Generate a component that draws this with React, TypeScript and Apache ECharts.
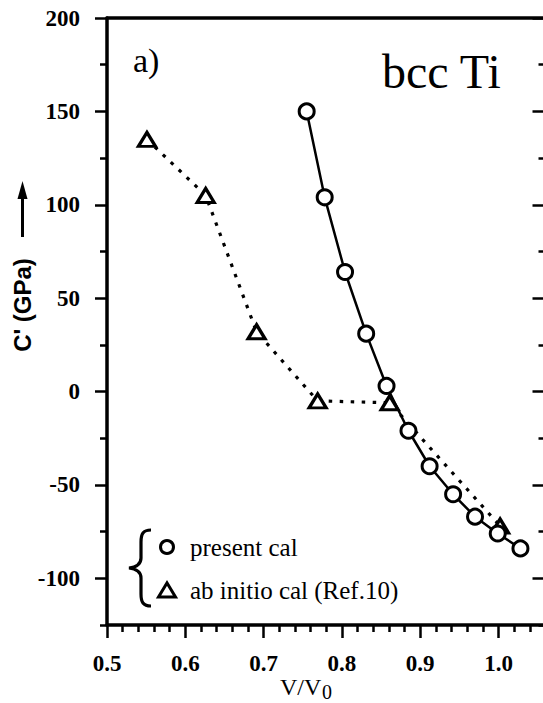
import React, { useEffect, useRef } from 'react';
import * as echarts from 'echarts';

// present calculation (circles, solid line)
const presentX = [0.755, 0.778, 0.804, 0.831, 0.857, 0.885, 0.912, 0.942, 0.97, 0.999, 1.028];
const presentY = [150, 104, 64, 31, 3, -21, -40, -55, -67, -76, -84];
// ab initio calculation (triangles, dotted line)
const abInitioX = [0.551, 0.626, 0.691, 0.769, 0.861, 1.002];
const abInitioY = [135, 105, 32, -5, -6, -72];

const xMajorTicks = [0.5, 0.6, 0.7, 0.8, 0.9, 1.0];
const xMinorTicks = [0.52, 0.54, 0.56, 0.58, 0.62, 0.64, 0.66, 0.68, 0.72, 0.74, 0.76, 0.78, 0.82, 0.84, 0.86, 0.88, 0.92, 0.94, 0.96, 0.98, 1.02, 1.04];
const yMajorTicks = [-100, -50, 0, 50, 100, 150, 200];
const yMinorTicks = [-125, -75, -25, 25, 75, 125, 175];

const legendLabels = ['present cal', 'ab initio cal (Ref.10)'];
const panelLabel = 'a)';
const titleLabel = 'bcc Ti';
const yName = "C' (GPa)";

let braceRegistered = false;
function registerBrace() {
  if (braceRegistered) return;
  const d = 'M 22 0 C 14 0 12 4 12 12 L 12 28 C 12 34 8 37 0 38 C 8 39 12 42 12 48 L 12 64 C 12 72 14 76 22 76';
  echarts.graphic.registerShape('brace', echarts.graphic.extendPath(d, {}) as any);
  braceRegistered = true;
}

const SERIF = '"Liberation Serif", "Times New Roman", serif';
const SANS = '"Liberation Sans", Arial, sans-serif';

export default function App() {
  const ref = useRef<HTMLDivElement>(null);
  useEffect(() => {
    if (!ref.current) return;
    registerBrace();
    const chart = echarts.init(ref.current, undefined, { renderer: 'svg' });
    const axisLineStyle = { color: '#000', width: 3.5 };
    const tickLine = { color: '#000', width: 2.5 };
    const base = { type: 'value', splitLine: { show: false } };
    const option: any = {
      animation: false,
      backgroundColor: '#fff',
      grid: { left: 107, top: 18, width: 438.5, height: 607 },
      xAxis: [
        {
          ...base, min: 0.5, max: 1.06, position: 'bottom',
          axisLine: { show: true, onZero: false, lineStyle: axisLineStyle },
          axisTick: { show: true, inside: false, length: 13, customValues: xMajorTicks, lineStyle: tickLine },
          axisLabel: {
            show: true, customValues: xMajorTicks, margin: 27,
            formatter: (v: number) => v.toFixed(1),
            color: '#000', fontFamily: SERIF, fontSize: 23, fontWeight: 'bold',
          },
        },
        {
          ...base, min: 0.5, max: 1.06, position: 'bottom',
          axisLine: { show: false, onZero: false },
          axisTick: { show: true, inside: false, length: 7, customValues: xMinorTicks, lineStyle: tickLine },
          axisLabel: { show: false },
        },
        {
          ...base, min: 0.5, max: 1.06, position: 'top',
          axisLine: { show: true, onZero: false, lineStyle: axisLineStyle },
          axisTick: { show: false },
          axisLabel: { show: false },
        },
      ],
      yAxis: [
        {
          ...base, min: -125, max: 200, position: 'left',
          axisLine: { show: true, onZero: false, lineStyle: axisLineStyle },
          axisTick: { show: true, inside: false, length: 12, customValues: yMajorTicks, lineStyle: tickLine },
          axisLabel: {
            show: true, customValues: yMajorTicks, margin: 27,
            color: '#000', fontFamily: SERIF, fontSize: 23, fontWeight: 'bold',
          },
        },
        {
          ...base, min: -125, max: 200, position: 'left',
          axisLine: { show: false, onZero: false },
          axisTick: { show: true, inside: false, length: 7, customValues: yMinorTicks, lineStyle: tickLine },
          axisLabel: { show: false },
        },
        {
          ...base, min: -125, max: 200, position: 'right',
          axisLine: { show: true, onZero: false, lineStyle: axisLineStyle },
          axisTick: { show: true, inside: true, length: 13, customValues: yMajorTicks, lineStyle: tickLine },
          axisLabel: { show: false },
        },
        {
          ...base, min: -125, max: 200, position: 'right',
          axisLine: { show: false, onZero: false },
          axisTick: { show: true, inside: true, length: 7, customValues: yMinorTicks, lineStyle: tickLine },
          axisLabel: { show: false },
        },
      ],
      series: [
        {
          name: legendLabels[1], type: 'line', xAxisIndex: 0, yAxisIndex: 0,
          data: abInitioX.map((x, i) => [x, abInitioY[i]]),
          symbol: 'triangle', symbolSize: [17, 14],
          lineStyle: { color: '#000', width: 3.2, type: [3.5, 7.5] },
          itemStyle: { color: '#fff', borderColor: '#000', borderWidth: 3.2 },
          z: 2,
        },
        {
          name: legendLabels[0], type: 'line', xAxisIndex: 0, yAxisIndex: 0,
          data: presentX.map((x, i) => [x, presentY[i]]),
          symbol: 'circle', symbolSize: 15,
          lineStyle: { color: '#000', width: 2.5, type: 'solid' },
          itemStyle: { color: '#fff', borderColor: '#000', borderWidth: 3 },
          z: 3,
        },
      ],
      graphic: [
        { type: 'text', x: 133, y: 60, style: { text: panelLabel, font: `normal 34px ${SERIF}`, fill: '#000', verticalAlign: 'middle', align: 'left' } },
        { type: 'text', x: 382, y: 71, style: { text: titleLabel, font: `normal 48px ${SERIF}`, fill: '#000', verticalAlign: 'middle', align: 'left' } },
        // y-axis name and arrow
        { type: 'text', x: 22.5, y: 305, rotation: Math.PI / 2, style: { text: yName, font: `bold 24px ${SANS}`, fill: '#000', align: 'center', verticalAlign: 'middle' } },
        { type: 'line', shape: { x1: 22.5, y1: 237, x2: 22.5, y2: 195 }, style: { stroke: '#000', lineWidth: 3 } },
        { type: 'polygon', shape: { points: [[17.5, 199], [27.5, 199], [22.5, 181]] }, style: { fill: '#000' } },
        // x-axis name V/V0
        { type: 'text', x: 280, y: 687, style: { text: 'V/V', font: `normal 24px ${SERIF}`, fill: '#000', align: 'left', verticalAlign: 'middle' } },
        { type: 'text', x: 322, y: 692, style: { text: '0', font: `normal 20px ${SERIF}`, fill: '#000', align: 'left', verticalAlign: 'middle' } },
        // legend
        { type: 'brace', x: 129, y: 530, style: { stroke: '#000', fill: 'none', lineWidth: 3.2 } },
        { type: 'circle', shape: { cx: 167, cy: 547, r: 6.5 }, style: { fill: '#fff', stroke: '#000', lineWidth: 3 } },
        { type: 'polygon', shape: { points: [[158.5, 597], [175.5, 597], [167, 583]] }, style: { fill: '#fff', stroke: '#000', lineWidth: 3 } },
        { type: 'text', x: 190, y: 547, style: { text: legendLabels[0], font: `normal 25px ${SERIF}`, fill: '#000', align: 'left', verticalAlign: 'middle' } },
        { type: 'text', x: 190, y: 590, style: { text: legendLabels[1], font: `normal 25px ${SERIF}`, fill: '#000', align: 'left', verticalAlign: 'middle' } },
      ],
    };
    chart.setOption(option);
    return () => chart.dispose();
  }, []);
  return (
    <div style={{ position: 'fixed', left: 0, top: 0, width: 543, height: 703, overflow: 'hidden', background: '#fff' }}>
      <div ref={ref} style={{ width: 560, height: 703 }} />
    </div>
  );
}
